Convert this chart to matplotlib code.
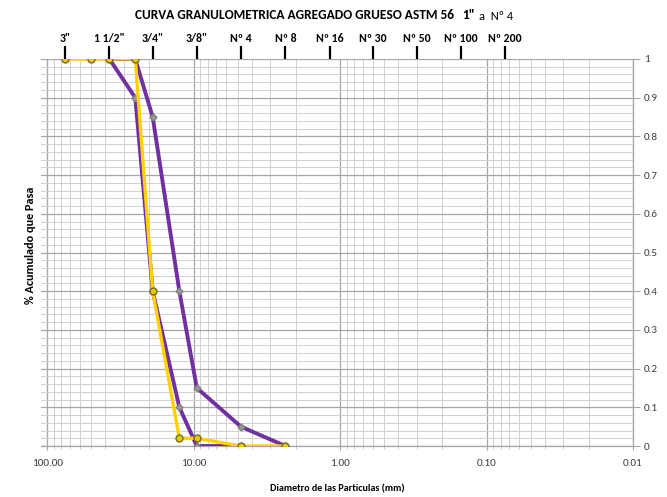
import matplotlib
matplotlib.use("Agg")
import matplotlib.pyplot as plt
import numpy as np
from matplotlib import font_manager
from matplotlib.ticker import FixedLocator, NullFormatter, LogLocator

names = {f.name for f in font_manager.fontManager.ttflist}
fam = 'DejaVu Sans'
for cand in ['Carlito', 'Calibri', 'Open Sans Condensed', 'Barlow Semi Condensed', 'Asap Condensed']:
    if cand in names:
        fam = cand
        break
plt.rcParams['font.family'] = [fam, 'DejaVu Sans']

# Data
sample_d = [75, 50, 37.5, 25, 19, 12.5, 9.5, 4.75, 2.36]
sample_p = [1.0, 1.0, 1.0, 1.0, 0.40, 0.02, 0.02, 0.0, 0.0]
lower_d = [37.5, 25, 19, 12.5, 9.5, 4.75]
lower_p = [1.0, 0.90, 0.40, 0.10, 0.0, 0.0]
upper_d = [37.5, 25, 19, 12.5, 9.5, 4.75, 2.36]
upper_p = [1.0, 1.0, 0.85, 0.40, 0.15, 0.05, 0.0]
sieve_sizes = [75, 37.5, 19, 9.5, 4.75, 2.36, 1.18, 0.6, 0.3, 0.15, 0.075]
sieve_labels = ['3"', '1 1/2"', '3/4"', '3/8"', 'Nº 4', 'Nº 8', 'Nº 16', 'Nº 30', 'Nº 50', 'Nº 100', 'Nº 200']
x_major = [100, 10, 1, 0.1, 0.01]
x_major_labels = ['100.00', '10.00', '1.00', '0.10', '0.01']
y_ticks = [0, 0.1, 0.2, 0.3, 0.4, 0.5, 0.6, 0.7, 0.8, 0.9, 1]
y_tick_labels = ['0', '0.1', '0.2', '0.3', '0.4', '0.5', '0.6', '0.7', '0.8', '0.9', '1']

W, H = 667, 497
fig = plt.figure(figsize=(W/100, H/100), dpi=100)
renderer = fig.canvas.get_renderer()


def fit(txt, target, base=10, horizontal=True):
    txt.set_fontsize(base)
    bb = txt.get_window_extent(renderer)
    size = bb.width if horizontal else bb.height
    txt.set_fontsize(base * target / size)
    return txt


l, r, t, b = 41, 633, 59, 446
ax = fig.add_axes([l/W, (H-b)/H, (r-l)/W, (b-t)/H])
ax.set_xscale('log')
ax.set_xlim(110, 0.01)
ax.set_ylim(0, 1)

# grid
ax.xaxis.set_major_locator(FixedLocator(x_major))
ax.xaxis.set_minor_locator(LogLocator(base=10, subs=np.arange(2, 10), numticks=20))
ax.xaxis.set_minor_formatter(NullFormatter())
ax.set_xticklabels(x_major_labels)
ax.yaxis.set_major_locator(FixedLocator(y_ticks))
ax.yaxis.set_minor_locator(FixedLocator(np.arange(0, 1.001, 0.02)))
ax.grid(which='major', color='#a6a6a6', lw=0.9)
ax.grid(which='minor', color='#d0d0d0', lw=0.7)
ax.set_axisbelow(True)

ax.yaxis.tick_right()
ax.set_yticklabels(y_tick_labels)
ax.tick_params(axis='y', which='major', length=5, color='#a6a6a6', labelsize=8, labelcolor='#404040', pad=3)
ax.tick_params(axis='y', which='minor', length=0)
ax.tick_params(axis='x', which='major', length=3, color='#a6a6a6', labelsize=8, labelcolor='#404040', pad=6)
ax.tick_params(axis='x', which='minor', length=2.5, color='#c0c0c0')
for s in ['top', 'left']:
    ax.spines[s].set_visible(False)
for s in ['bottom', 'right']:
    ax.spines[s].set_color('#a6a6a6')
    ax.spines[s].set_linewidth(0.9)

purple = '#7030A0'
yellow = '#FFD100'
ax.plot(lower_d, lower_p, color=purple, lw=2.8, marker='D', ms=3.5,
        mfc='#9a9a9a', mec='#808080', zorder=3)
ax.plot(upper_d, upper_p, color=purple, lw=2.8, marker='D', ms=3.5,
        mfc='#9a9a9a', mec='#808080', zorder=3)
ax.plot(sample_d, sample_p, color=yellow, lw=2.4, marker='o', ms=5,
        mfc='#E8C800', mec='#7a6a20', mew=1.0, zorder=4)

# top sieve axis
ax2 = ax.twiny()
ax2.set_xscale('log')
ax2.set_xlim(ax.get_xlim())
ax2.xaxis.set_major_locator(FixedLocator(sieve_sizes))
ax2.xaxis.set_minor_locator(FixedLocator([]))
ax2.set_xticklabels(sieve_labels, fontweight='bold', fontsize=8.5)
ax2.tick_params(axis='x', which='major', length=9.5, width=1.6, color='black', pad=1.5, direction='out')
for s in ax2.spines.values():
    s.set_visible(False)

xl = ax.set_xlabel('Diametro de las Particulas (mm)', fontweight='bold', labelpad=12)
fit(xl, 135)
yl = fig.text(30/W, 1-245/H, '% Acumulado que Pasa', rotation=90,
              fontweight='bold', ha='center', va='center')
fit(yl, 118, horizontal=False)

# title, fitted to reference width
t1 = fig.text(135/W, 1-15/H, 'CURVA GRANULOMETRICA AGREGADO GRUESO ASTM 56',
              fontweight='bold', ha='left', va='center')
fit(t1, 320)
t2 = fig.text(462/W, 1-15/H, '1"', fontsize=t1.get_fontsize(), fontweight='bold', ha='left', va='center')
t3 = fig.text(479/W, 1-16/H, 'a  Nº 4', fontsize=9, ha='left', va='center')

fig.savefig('out.png', dpi=100)
